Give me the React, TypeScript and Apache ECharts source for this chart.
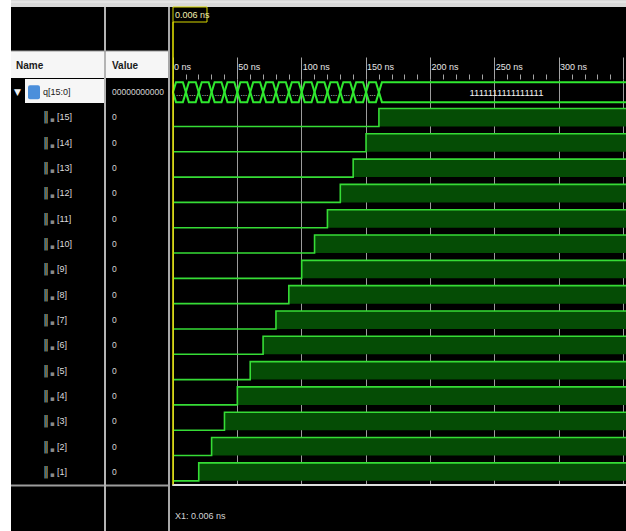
import React, { useEffect, useRef } from "react";
import * as echarts from "echarts";

// Signal rows, top to bottom: the bus and its bits [15]..[1]
const ROW_NAMES = [
  "q[15:0]", "[15]", "[14]", "[13]", "[12]", "[11]", "[10]", "[9]",
  "[8]", "[7]", "[6]", "[5]", "[4]", "[3]", "[2]", "[1]",
];
// Values shown in the Value column at the cursor time
const VALUES_AT_CURSOR = [
  "0000000000000000", "0", "0", "0", "0", "0", "0", "0",
  "0", "0", "0", "0", "0", "0", "0", "0",
];
// Time (ns) at which each bit row [15]..[1] goes high
const BIT_RISE_NS = [160, 150, 140, 130, 120, 110, 100, 90, 80, 70, 60, 50, 40, 30, 20];
// Bus value changes (ns) and the text drawn inside each bus segment
const BUS_CHANGE_NS = [0, 10, 20, 30, 40, 50, 60, 70, 80, 90, 100, 110, 120, 130, 140, 150, 160];
const BUS_LABELS = [
  "...", "...", "...", "...", "...", "...", "...", "...",
  "...", "...", "...", "...", "...", "...", "...", "...",
  "1111111111111111",
];
const CURSOR_NS = 0.006;
const CURSOR_TEXT = "0.006 ns";
const VIEW_START_NS = 0;
const VIEW_END_NS = 352;
const TICK_STEP_NS = 50;
// Last tick whose label still fits inside the visible window
const LAST_LABELED_NS = 300;

const UI_FONT = '"Liberation Sans", Arial, sans-serif';
const WAVE_GREEN = "#36dc36";
const BUS_GREEN = "#2fe82f";
const HIGH_FILL = "#054c05";

export default function App() {
  const ref = useRef<HTMLDivElement | null>(null);

  useEffect(() => {
    document.body.style.margin = "0";
    const el = ref.current;
    if (!el) return;
    const chart = echarts.init(el, undefined, { renderer: "svg" });

    const busData = BUS_CHANGE_NS.map((t, i) => [
      t,
      i + 1 < BUS_CHANGE_NS.length ? BUS_CHANGE_NS[i + 1] : VIEW_END_NS,
      0,
    ]);
    const bitData = BIT_RISE_NS.map((t, i) => [t, i + 1]);

    const option: any = {
      animation: false,
      backgroundColor: "#000000",
      grid: { left: 173, top: 79.5, width: 453, height: 405, containLabel: false, outerBoundsMode: "none" },
      xAxis: [
        {
          type: "value",
          position: "top",
          min: VIEW_START_NS,
          max: VIEW_END_NS,
          interval: TICK_STEP_NS,
          axisLine: { show: false },
          axisTick: { show: true, length: 22, lineStyle: { color: "#a4a4a4", width: 1 } },
          minorTick: { show: true, splitNumber: 5, length: 5, lineStyle: { color: "#a4a4a4", width: 1 } },
          axisLabel: {
            show: true,
            align: "left",
            margin: 8,
            padding: [0, 0, 0, 1],
            color: "#e6e6e6",
            fontSize: 9,
            fontFamily: UI_FONT,
            formatter: (v: number) => (v > LAST_LABELED_NS ? "" : `${v} ns`),
          },
          splitLine: { show: true, lineStyle: { color: "#9c9c9c", width: 1 } },
        },
        {
          type: "value",
          position: "bottom",
          min: VIEW_START_NS,
          max: VIEW_END_NS,
          axisLine: { show: true, lineStyle: { color: "#dedede", width: 2 } },
          axisTick: { show: false },
          axisLabel: { show: false },
          splitLine: { show: false },
        },
      ],
      yAxis: [
        {
          type: "category",
          data: ROW_NAMES,
          inverse: true,
          position: "left",
          axisLine: { show: false },
          axisTick: { show: false },
          splitLine: { show: false },
          axisLabel: {
            show: true,
            interval: 0,
            align: "left",
            margin: 159,
            fontFamily: UI_FONT,
            fontSize: 9,
            formatter: (v: string, i: number) =>
              i === 0
                ? `{tri|▼}{bus| }{sp| }{sel|${v}}`
                : `{pad| }{wire|‖}{sq|▪}{sp| }{nm|${v}}`,
            rich: {
              tri: { color: "#f0f0f0", fontSize: 9, width: 14, fontFamily: "DejaVu Sans" },
              bus: { width: 12, height: 14, backgroundColor: "#4b8fdb", borderRadius: 2 },
              sp: { width: 3 },
              sel: { color: "#1a1a1a", fontSize: 9, fontFamily: UI_FONT },
              pad: { width: 29 },
              wire: { color: "#a3b0a3", fontSize: 12, width: 7, fontFamily: "DejaVu Sans" },
              sq: { color: "#8a8a8a", fontSize: 7, width: 4, fontFamily: "DejaVu Sans", padding: [6, 0, 0, 0] },
              nm: { color: "#dcdcdc", fontSize: 9, fontFamily: UI_FONT },
            },
          },
        },
        {
          type: "category",
          data: ROW_NAMES,
          inverse: true,
          position: "left",
          axisLine: { show: false },
          axisTick: { show: false },
          splitLine: { show: false },
          axisLabel: {
            show: true,
            interval: 0,
            align: "left",
            margin: 61,
            width: 56,
            overflow: "truncate",
            ellipsis: "",
            color: "#d6d6d6",
            fontSize: 8.5,
            fontFamily: UI_FONT,
            formatter: (_v: string, i: number) => VALUES_AT_CURSOR[i],
          },
        },
      ],
      series: [
        {
          type: "custom",
          name: "q[15:0]",
          xAxisIndex: 0,
          yAxisIndex: 0,
          encode: { x: [0, 1], y: 2 },
          data: busData,
          renderItem: (params: any, api: any) => {
            const s = api.value(0);
            const e = api.value(1);
            const row = api.value(2);
            const open = params.dataIndex === BUS_CHANGE_NS.length - 1;
            const [xs, yc] = api.coord([s, row]);
            const [xe] = api.coord([e, row]);
            const band = api.size([0, 1])[1];
            const hh = band * 0.395;
            const d = Math.min(3, (xe - xs) / 4);
            const yT = yc - hh;
            const yB = yc + hh;
            const outline = open
              ? {
                  type: "polyline",
                  shape: { points: [[xe + 2, yT], [xs + d, yT], [xs, yc], [xs + d, yB], [xe + 2, yB]] },
                  style: { fill: "none", stroke: BUS_GREEN, lineWidth: 2 },
                }
              : {
                  type: "polygon",
                  shape: { points: [[xs, yc], [xs + d, yT], [xe - d, yT], [xe, yc], [xe - d, yB], [xs + d, yB]] },
                  style: { fill: "none", stroke: BUS_GREEN, lineWidth: 2 },
                };
            return {
              type: "group",
              children: [
                outline,
                {
                  type: "text",
                  style: {
                    text: BUS_LABELS[params.dataIndex],
                    x: (xs + xe) / 2 + (open ? 4 : 0),
                    y: yc + (open ? 0 : 1),
                    align: "center",
                    verticalAlign: "middle",
                    fill: "#f2f2f2",
                    fontSize: open ? 9.5 : 8,
                    fontFamily: UI_FONT,
                  },
                },
              ],
            };
          },
        },
        {
          type: "custom",
          name: "bits",
          xAxisIndex: 0,
          yAxisIndex: 0,
          encode: { x: 0, y: 1 },
          data: bitData,
          renderItem: (_params: any, api: any) => {
            const rise = api.value(0);
            const row = api.value(1);
            const [x0, yc] = api.coord([VIEW_START_NS, row]);
            const [xr] = api.coord([rise, row]);
            const [xEnd] = api.coord([VIEW_END_NS, row]);
            const band = api.size([0, 1])[1];
            const yH = yc - band * 0.355;
            const yL = yc + band * 0.355;
            return {
              type: "group",
              children: [
                {
                  type: "rect",
                  shape: { x: xr, y: yH, width: xEnd - xr, height: yL - yH },
                  style: { fill: HIGH_FILL },
                },
                {
                  type: "polyline",
                  shape: { points: [[x0, yL], [xr, yL], [xr, yH], [xEnd, yH]] },
                  style: { fill: "none", stroke: WAVE_GREEN, lineWidth: 1.6 },
                },
              ],
            };
          },
        },
      ],
    };

    chart.setOption(option);

    const cx = chart.convertToPixel({ xAxisIndex: 0 }, CURSOR_NS) as number;
    const gridBottom = 79.5 + 405;

    const graphic: any[] = [
      // page edge and title strip
      { type: "rect", shape: { x: 0, y: 0, width: 11, height: 531 }, style: { fill: "#ffffff" }, z: 1 },
      { type: "rect", shape: { x: 11, y: 0, width: 615, height: 7 }, style: { fill: "#d9d9d9" }, z: 1 },
      { type: "line", shape: { x1: 11, y1: 2, x2: 626, y2: 2 }, style: { stroke: "#efefef", lineWidth: 1 }, z: 1 },
      // panel dividers
      { type: "rect", shape: { x: 104, y: 7, width: 2, height: 524 }, style: { fill: "#b4b4b4" }, z: 1 },
      { type: "rect", shape: { x: 168, y: 7, width: 2, height: 524 }, style: { fill: "#a8a8a8" }, z: 1 },
      // column headers
      { type: "rect", shape: { x: 11, y: 51, width: 93, height: 27 }, style: { fill: "#f6f6f6" }, z: 1 },
      { type: "rect", shape: { x: 106, y: 51, width: 62, height: 27 }, style: { fill: "#f6f6f6" }, z: 1 },
      { type: "line", shape: { x1: 11, y1: 51, x2: 168, y2: 51 }, style: { stroke: "#9a9a9a", lineWidth: 1 }, z: 1 },
      {
        type: "text",
        style: { text: "Name", x: 16, y: 65, verticalAlign: "middle", fill: "#1a1a1a", fontSize: 10, fontWeight: "bold", fontFamily: UI_FONT },
        z: 2,
      },
      {
        type: "text",
        style: { text: "Value", x: 112, y: 65, verticalAlign: "middle", fill: "#1a1a1a", fontSize: 10, fontWeight: "bold", fontFamily: UI_FONT },
        z: 2,
      },
      // selected bus row highlight in the name column
      { type: "rect", shape: { x: 25, y: 79, width: 79, height: 24 }, style: { fill: "#f6f6f6" }, z: -1 },
      // lower separators of the name and value columns
      { type: "rect", shape: { x: 11, y: 484.5, width: 93, height: 2 }, style: { fill: "#9c9c9c" }, z: 1 },
      { type: "rect", shape: { x: 106, y: 484.5, width: 62, height: 2 }, style: { fill: "#9c9c9c" }, z: 1 },
      // cursor
      { type: "line", shape: { x1: cx, y1: 22, x2: cx, y2: gridBottom }, style: { stroke: "#e8e800", lineWidth: 1.5 }, z: 10 },
      {
        type: "rect",
        shape: { x: cx, y: 7, width: 34, height: 15 },
        style: { fill: "#000000", stroke: "#d6d600", lineWidth: 1 },
        z: 10,
      },
      {
        type: "text",
        style: { text: CURSOR_TEXT, x: cx + 2, y: 15, verticalAlign: "middle", fill: "#f2f0b0", fontSize: 9, fontFamily: UI_FONT },
        z: 11,
      },
      {
        type: "text",
        style: { text: `X1: ${CURSOR_TEXT}`, x: 175, y: 516, verticalAlign: "middle", fill: "#d4d4d4", fontSize: 9, fontFamily: UI_FONT },
        z: 11,
      },
    ];

    chart.setOption({ graphic });

    return () => {
      chart.dispose();
    };
  }, []);

  return <div ref={ref} style={{ width: 626, height: 531 }} />;
}
